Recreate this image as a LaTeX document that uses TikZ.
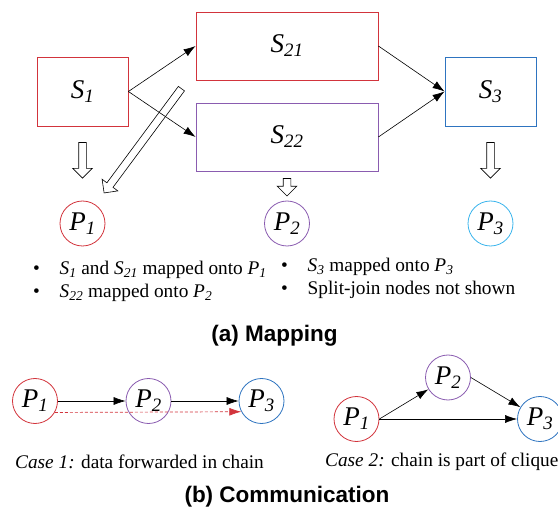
\documentclass[tikz,border=0pt]{standalone}
\usepackage{fontspec}
\setmainfont{Liberation Serif}
\setsansfont{Liberation Sans}
\usetikzlibrary{arrows.meta,shapes.arrows,calc}
\definecolor{tred}{HTML}{D2343C}
\definecolor{tpurple}{HTML}{8A5CB0}
\definecolor{tblue}{HTML}{2E74C0}
\definecolor{tcyan}{HTML}{3AB4EC}
\newcommand{\nm}[2]{\textit{#1\textsubscript{#2}}}
\newcommand{\itm}{\makebox[26.5pt][l]{\textbullet}}
\newcommand{\hollowarrow}[3][]{%
  \path let \p1=(#2), \p2=(#3), \n1={atan2(\y2-\y1,\x2-\x1)},
    \n2={veclen(\x2-\x1,\y2-\y1)} in
    (\p1) node[hollow, rotate=\n1, minimum height=\n2, #1] {};}
\tikzset{
  stage/.style={draw, rectangle, line width=0.8pt, inner sep=0pt,
    font=\fontsize{27}{31}\selectfont},
  proc/.style={draw, circle, line width=0.8pt, minimum size=45pt, inner sep=0pt,
    font=\fontsize{27}{31}\selectfont},
  flow/.style={-{Latex[length=12pt,width=8pt]}, line width=0.6pt},
  hollow/.style={draw, single arrow, line width=0.6pt, inner sep=3.5pt,
    single arrow head extend=6pt, anchor=tail},
  note/.style={font=\fontsize{19.3}{23}\selectfont, anchor=west, inner sep=0pt},
  caption/.style={font=\fontsize{22.5}{26}\selectfont\sffamily\bfseries,
    anchor=base, inner sep=0pt},
}
\begin{document}
\begin{tikzpicture}[x=1pt,y=-1pt]
  \useasboundingbox (0,0) rectangle (558,508);
  % (a) mapping
  \node[stage, tred, text=black, minimum width=91pt, minimum height=69pt] (s1) at (82.5,91.5) {\nm{S}{1}};
  \node[stage, tred, text=black, minimum width=182pt, minimum height=68pt] (s21) at (287,46) {\nm{S}{21}};
  \node[stage, tpurple, text=black, minimum width=182pt, minimum height=68pt] (s22) at (287,137) {\nm{S}{22}};
  \node[stage, tblue, text=black, minimum width=91pt, minimum height=69pt] (s3) at (490.5,91.5) {\nm{S}{3}};
  \node[proc, tred, text=black] (p1) at (82.5,223.5) {\nm{P}{1}};
  \node[proc, tpurple, text=black] (p2) at (287,223.5) {\nm{P}{2}};
  \node[proc, tcyan, text=black] (p3) at (490.5,223.5) {\nm{P}{3}};
  \begin{scope}[flow]
    \draw (s1.east) to (s21.west);
    \draw (s1.east) to (s22.west);
    \draw (s21.east) to (s3.west);
    \draw (s22.east) to (s3.west);
  \end{scope}
  \hollowarrow{$(s1.south)!0.213!(p1.north)$}{$(s1.south)!0.693!(p1.north)$}
  \hollowarrow{$(s22.south)!0.233!(p2.north)$}{$(s22.south)!0.833!(p2.north)$}
  \hollowarrow{$(s3.south)!0.213!(p3.north)$}{$(s3.south)!0.693!(p3.north)$}
  \hollowarrow{$(s21.south west)+(-14,8)$}{$(p1.north east)+(5.6,-14.6)$}
  \node[note] (n1) at (33,270) {\itm\nm{S}{1} and \nm{S}{21} mapped onto \nm{P}{1}};
  \node[note] (n2) at (33,293) {\itm\nm{S}{22} mapped onto \nm{P}{2}};
  \node[note] (n3) at (281,267) {\itm\nm{S}{3} mapped onto \nm{P}{3}};
  \node[note] (n4) at (281,290) {\itm Split-join nodes not shown};
  \node[caption] (capa) at (274.5,342) {(a) Mapping};
  % (b) communication
  \node[proc, tred, text=black] (c1) at (35,401) {\nm{P}{1}};
  \node[proc, tpurple, text=black] (c2) at (148.5,401) {\nm{P}{2}};
  \node[proc, tblue, text=black] (c3) at (261.5,401) {\nm{P}{3}};
  \draw[flow] (c1) to (c2);
  \draw[flow] (c2) to (c3);
  \draw[flow, tred, densely dashed, line width=0.7pt] (c1.-30) to (c3.208);
  \node[note, anchor=base west] (case1) at (15,468) {\textit{Case 1:} data forwarded in chain};
  \node[proc, tred, text=black] (d1) at (356.5,419) {\nm{P}{1}};
  \node[proc, tpurple, text=black] (d2) at (448,377.5) {\nm{P}{2}};
  \node[proc, tblue, text=black] (d3) at (540,419) {\nm{P}{3}};
  \begin{scope}[flow]
    \draw (d1.east) to (d2);
    \draw (d2.east) to (d3);
    \draw (d1.east) to (d3);
  \end{scope}
  \node[note, anchor=base west] (case2) at (325,467) {\textit{Case 2:} chain is part of clique};
  \node[caption] (capb) at (287,502) {(b) Communication};
\end{tikzpicture}
\end{document}
